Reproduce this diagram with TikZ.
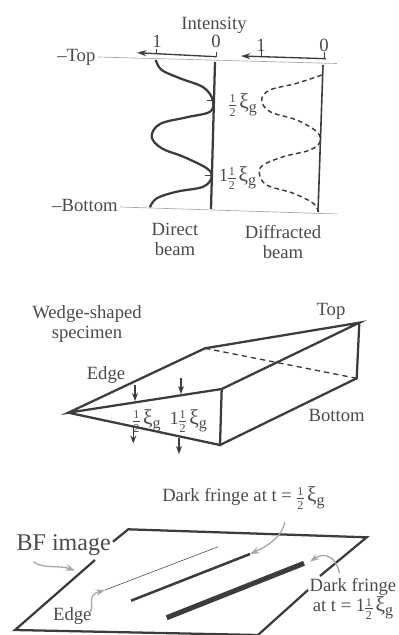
\documentclass[tikz,border=0pt]{standalone}
\usepackage{fontspec}
\setmainfont{Liberation Serif}
\usetikzlibrary{arrows.meta}
\newcommand{\hlf}{\raisebox{-0.45em}{\shortstack[c]{\fontsize{9}{7}\selectfont 1\\[-1.5pt]\rule{5.5pt}{0.3pt}\\[-0.5pt]\fontsize{9}{7}\selectfont 2}}}
\newcommand{\xig}{\,{\fontsize{16}{16}\selectfont ξ}\raisebox{-3pt}{\fontsize{12}{12}\selectfont g}}
\definecolor{ink}{HTML}{3C3C3C}
\definecolor{txt}{HTML}{4A4A4A}
\definecolor{pale}{HTML}{A8A8A8}
\tikzset{
  lab/.style={inner sep=0pt,text=txt,font=\fontsize{14}{15}\selectfont,align=center},
  big/.style={inner sep=0pt,text=txt,font=\fontsize{18}{19}\selectfont},
  body/.style={draw=ink,line width=1.7pt,line join=miter},
  hair/.style={draw=pale,line width=0.5pt},
  axis/.style={draw=ink,line width=1pt,-{Stealth[length=7pt,width=4.5pt]}},
  thin tick/.style={draw=ink,line width=0.6pt},
  curve/.style={draw=ink,line width=1.7pt,smooth,tension=0.6},
  dcurve/.style={draw=ink,line width=1.1pt,smooth,tension=0.6,dash pattern=on 3.5pt off 2.5pt},
  down/.style={draw=ink,line width=1pt,-{Stealth[length=6pt,width=4.5pt]}},
  grayarrow/.style={draw=pale,line width=1pt,-{Stealth[length=7pt,width=5pt]}},
}
\begin{document}
\begin{tikzpicture}[x=0.75pt,y=-0.75pt]
\useasboundingbox (0,0) rectangle (399,635);
% ---------- top panel
\coordinate (ta) at (98,57);   \coordinate (tb) at (337,63.5);
\coordinate (ba) at (120,207); \coordinate (bb) at (337,214);
\coordinate (la) at (215,62);  \coordinate (lb) at (211,209);
\coordinate (ra) at (323,65);  \coordinate (rb) at (318,212);
\coordinate (a1s) at (216,56.7); \coordinate (a1e) at (137,52.7);
\coordinate (a2s) at (326,58.7); \coordinate (a2e) at (241,56);
\node[lab] (intensity) at (214,25) {Intensity};
\node[lab] (one1) at (157,41.5) {1};
\node[lab] (zero1) at (216,41.5) {0};
\node[lab] (one2) at (261,45) {1};
\node[lab] (zero2) at (324,45) {0};
\node[lab,anchor=west] (top) at (57,57) {–Top};
\node[lab,anchor=west] (bottom) at (52,205) {–Bottom};
\node[lab] (direct) at (175,239) {Direct\\beam};
\node[lab] (diff) at (283,242) {Diffracted\\beam};
\node[lab] (h1) at (243,105) {\hlf\xig};
\node[lab] (h2) at (237.5,178) {1\hlf\xig};
\draw[hair] (ta) -- (tb);
\draw[hair] (ba) -- (bb);
\draw[body] (la) -- (lb);
\draw[draw=ink,line width=1.2pt] (ra) -- (rb);
\draw[axis] (a1s) -- (a1e);
\draw[axis] (a2s) -- (a2e);
\draw[thin tick] (156,49) -- (156,54);
\draw[thin tick] (216,52) -- (216,57);
\draw[thin tick] (261,50) -- (261,57);
\draw[thin tick] (324,52) -- (324,58);
\draw[thin tick] (207,100) -- (213,100);
\draw[thin tick] (205,175) -- (211,175);
\draw[curve] plot coordinates {(155.7,60) (161.7,70) (180,78.3) (203.3,87.3) (212.7,100) (210,111.7) (186.7,117.3) (160,124) (151.7,136.7) (161.7,148.3) (183.3,156.7) (206.7,168.3) (211.7,176.7) (203.3,186.7) (176.7,191.7) (156.7,198.3) (150,207.3)};
\draw[dcurve] plot coordinates {(321.7,75) (296.7,83.3) (270,90) (261.7,100) (270,111.7) (296.7,120) (316.7,131.7) (320,141.7) (310,150) (283.3,156.7) (263.3,165) (259.3,173.3) (266.7,185) (293.3,193.3) (313.3,203.3) (318.3,211.7)};
% ---------- wedge
\coordinate (tip) at (68.3,412.7);
\coordinate (bl) at (205,348.3);
\coordinate (tr) at (359.3,322.7);
\coordinate (br) at (356.7,378.3);
\coordinate (ft) at (221.7,389);
\coordinate (fb) at (220,445);
\draw[body] (tip) -- (bl) -- (tr) -- (ft) -- cycle;
\draw[body] (tip) -- (fb) -- (ft);
\draw[body] (fb) -- (br) -- (tr);
\draw[draw=ink,line width=1pt,dash pattern=on 4pt off 3pt] (bl) -- (br);
\coordinate (d1a) at (135,385); \coordinate (d1b) at (135,401);
\coordinate (d2a) at (181,378); \coordinate (d2b) at (181,394);
\coordinate (d3a) at (133.3,426.7); \coordinate (d3b) at (133.3,443.5);
\coordinate (d4a) at (179,437.7); \coordinate (d4b) at (179,454);
\draw[down] (d1a) -- (d1b);
\draw[down] (d2a) -- (d2b);
\draw[down] (d3a) -- (d3b);
\draw[down] (d4a) -- (d4b);
\node[lab] (w1) at (146.7,421) {\hlf\xig};
\node[lab] (w2) at (188.3,421) {1\hlf\xig};
\node[lab] (wedgelab) at (87,324) {Wedge-shaped\\specimen};
\node[lab] (edge1) at (106,375) {Edge};
\node[lab] (toplab) at (331,311.7) {Top};
\node[lab] (botlab) at (336.7,415) {Bottom};
% ---------- image
\coordinate (itl) at (128.3,529.3);
\coordinate (itr) at (366.7,537.3);
\coordinate (ibl) at (15,630);
\coordinate (ibr) at (258,635);
\coordinate (gapl1) at (113,541.7);
\coordinate (gapl2) at (95,560);
\coordinate (gapr1) at (320,576);
\coordinate (gapr2) at (308,590);
\draw[body] (gapl1) -- (itl) -- (itr) -- (gapr1);
\draw[body] (gapr2) -- (ibr) (ibr) -- (ibl) -- (gapl2);
\coordinate (f0a) at (218.3,546.7); \coordinate (f0b) at (105,590);
\coordinate (f1a) at (250,554);     \coordinate (f1b) at (131,600.7);
\coordinate (f2a) at (304,563.3);   \coordinate (f2b) at (166.7,617.7);
\draw[draw=ink,line width=0.4pt] (f0a) -- (f0b);
\draw[draw=ink,line width=1.9pt] (f1a) -- (f1b);
\draw[draw=ink,line width=3.8pt] (f2a) -- (f2b);
\node[big] (bf) at (63.7,545) {BF image};
\node[lab,anchor=west] (df1) at (162,498) {Dark fringe at t = \hlf\xig};
\node[lab] (df2) at (353,599) {Dark fringe\\at t = 1\hlf\xig};
\node[lab] (edge2) at (72.3,616) {Edge};
\draw[grayarrow] (285,521.7) .. controls (282,535) and (272,544) .. (f1a);
\draw[grayarrow] (33.3,561.7) .. controls (42,569) and (60,565) .. (75,570.7);
\draw[grayarrow] (89.3,613) .. controls (96,606) and (85,596) .. (f0b);
\draw[grayarrow] (339.3,573) .. controls (337,558) and (325,551) .. (310,561.7);
\end{tikzpicture}
\end{document}
